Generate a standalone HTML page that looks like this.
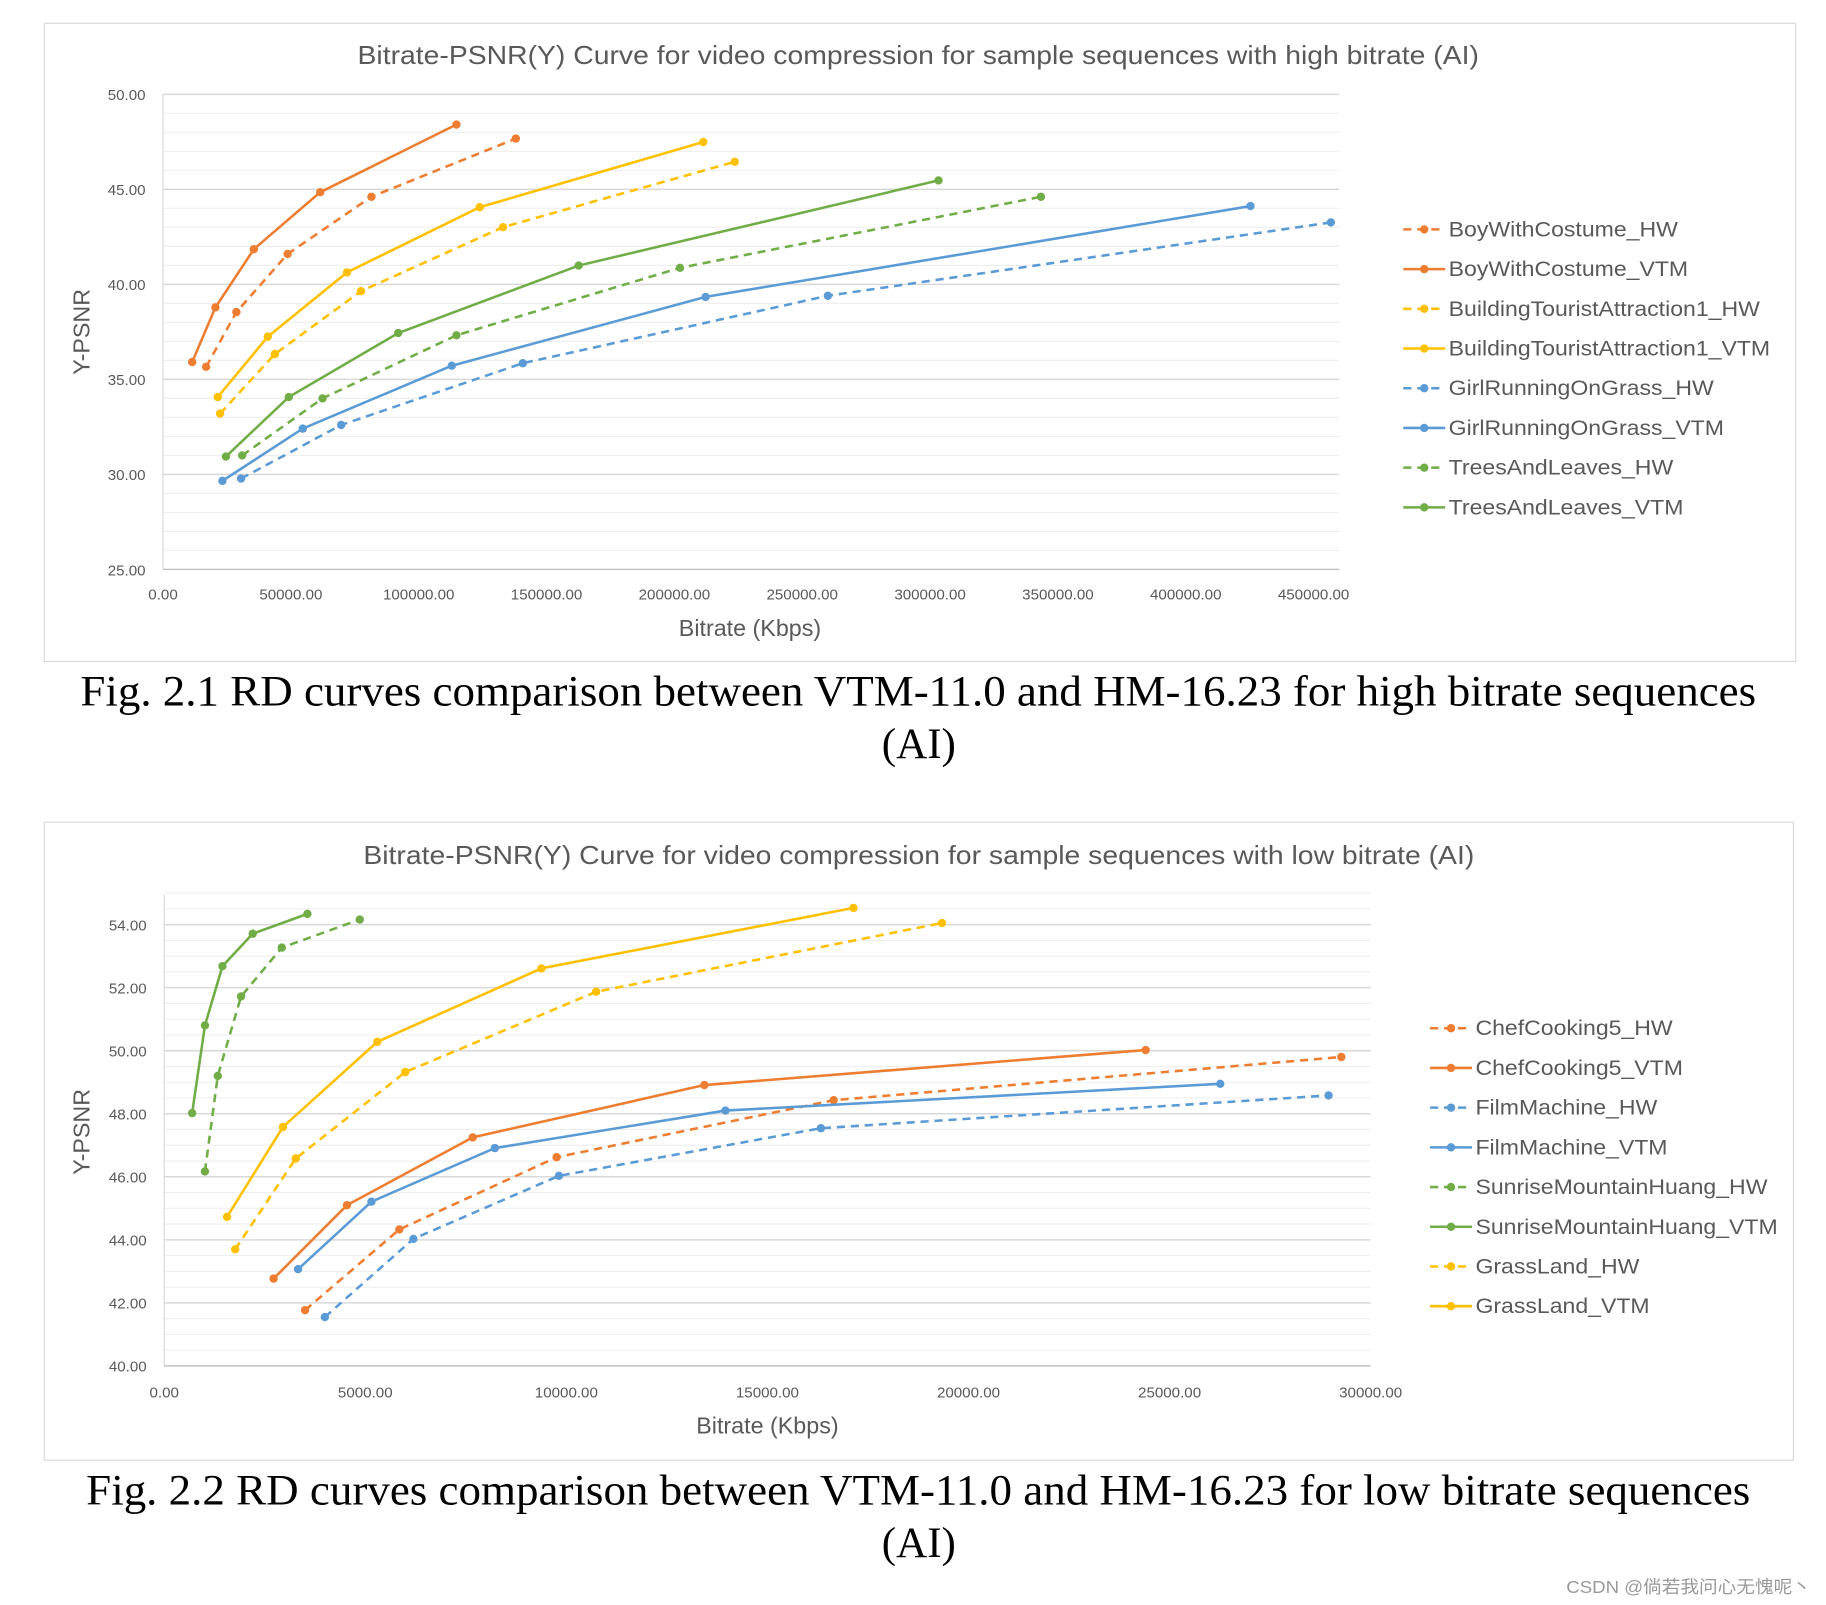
<!DOCTYPE html>
<html><head><meta charset="utf-8"><style>
html,body{margin:0;padding:0;background:#fff;}
svg{display:block;}
text{font-family:"Liberation Sans","Noto Sans CJK SC",sans-serif;}
.cap{font-family:"Liberation Serif",serif;font-size:37px;fill:#000;}
</style></head><body>
<svg id="root" width="1826" height="1605" viewBox="0 0 1568 1378.3" preserveAspectRatio="none" xmlns="http://www.w3.org/2000/svg">
<rect x="38" y="20" width="1504" height="548" fill="#fff" stroke="#d9d9d9"/>
<rect x="38" y="706" width="1502" height="548" fill="#fff" stroke="#d9d9d9"/>
<g id="c1"></g>
<g id="c2"></g>
<text class="cap" x="69" y="606" textLength="1439" lengthAdjust="spacingAndGlyphs">Fig. 2.1 RD curves comparison between VTM-11.0 and HM-16.23 for high bitrate sequences</text>
<text class="cap" x="789" y="651" text-anchor="middle">(AI)</text>
<text class="cap" x="74" y="1292" textLength="1429" lengthAdjust="spacingAndGlyphs">Fig. 2.2 RD curves comparison between VTM-11.0 and HM-16.23 for low bitrate sequences</text>
<text class="cap" x="789" y="1337" text-anchor="middle">(AI)</text>
<text x="1345" y="1368" textLength="210" lengthAdjust="spacingAndGlyphs" font-size="15" fill="#999">CSDN @倘若我问心无愧呢丶</text>
</svg>
<script>
// ---- Chart 1 data ----
const c1Names = ["BoyWithCostume_HW","BoyWithCostume_VTM","BuildingTouristAttraction1_HW","BuildingTouristAttraction1_VTM","GirlRunningOnGrass_HW","GirlRunningOnGrass_VTM","TreesAndLeaves_HW","TreesAndLeaves_VTM"];
const c1X = [
 [16850,28690,48725,81510,137980],
 [11385,20490,35520,61475,114750],
 [22310,43715,77410,132970,223590],
 [21400,40985,71950,123860,211290],
 [30510,69670,140710,260020,456740],
 [23225,54645,112930,212200,425320],
 [30965,62385,114750,202190,343350],
 [24590,49180,91985,162570,303280]];
const c1Y = [
 [35.66,38.54,41.6,44.61,47.67],
 [35.91,38.79,41.85,44.85,48.41],
 [33.2,36.33,39.64,43.01,46.45],
 [34.07,37.25,40.63,44.06,47.49],
 [29.78,32.6,35.85,39.4,43.26],
 [29.66,32.41,35.72,39.34,44.12],
 [31.0,34.0,37.32,40.87,44.61],
 [30.94,34.07,37.44,40.99,45.47]];
const c1XTicks = ["0.00","50000.00","100000.00","150000.00","200000.00","250000.00","300000.00","350000.00","400000.00","450000.00"];
const c1YTicks = ["25.00","30.00","35.00","40.00","45.00","50.00"];
// ---- Chart 2 data ----
const c2Names = ["ChefCooking5_HW","ChefCooking5_VTM","FilmMachine_HW","FilmMachine_VTM","SunriseMountainHuang_HW","SunriseMountainHuang_VTM","GrassLand_HW","GrassLand_VTM"];
const c2X = [
 [3503,5848,9757,16647,29270],
 [2721,4545,7672,13433,24406],
 [3995,6196,9815,16330,28953],
 [3329,5153,8222,13955,26260],
 [1013,1332,1911,2924,4864],
 [695,1013,1448,2200,3561],
 [1766,3272,5993,10741,19340],
 [1563,2953,5298,9380,17140]];
const c2Y = [
 [41.77,44.33,46.62,48.43,49.8],
 [42.77,45.1,47.25,48.91,50.02],
 [41.55,44.03,46.03,47.54,48.58],
 [43.07,45.21,46.91,48.1,48.95],
 [46.17,49.2,51.72,53.27,54.16],
 [48.02,50.8,52.68,53.71,54.34],
 [43.7,46.58,49.32,51.87,54.05],
 [44.73,47.58,50.28,52.61,54.53]];
const c2XTicks = ["0.00","5000.00","10000.00","15000.00","20000.00","25000.00","30000.00"];
const c2YTicks = ["40.00","42.00","44.00","46.00","48.00","50.00","52.00","54.00"];

const NS="http://www.w3.org/2000/svg";
function mk(p,tag,at){const e=document.createElementNS(NS,tag);for(const k in at)e.setAttribute(k,at[k]);p.appendChild(e);return e;}

function draw(g,cfg){
  const {names,X,Y,xt,yt,colors,x0,x1,xmin,xmax,ybot,ytop,ymin,ymax,minor,title,titleY,legX,legY,plotRight,xLabY,xTitleY,xTitleX,yTitleY}=cfg;
  const sx=v=>x0+(v-xmin)/(xmax-xmin)*(x1-x0);
  const sy=v=>ybot-(v-ymin)/(ymax-ymin)*(ybot-ytop);
  let t=mk(g,'text',{x:cfg.titleX0,y:titleY,textLength:cfg.titleW,lengthAdjust:'spacingAndGlyphs','font-size':22,fill:'#595959'});t.textContent=title;
  
  
  for(let v=ymin;v<=cfg.yTop+1e-6;v+=minor){
    const isMaj=Math.abs((v-ymin)/cfg.major-Math.round((v-ymin)/cfg.major))<1e-6;
    const l=mk(g,'line',{x1:x0,x2:plotRight,y1:sy(v),y2:sy(v),stroke:isMaj?'#d9d9d9':'#efefef','stroke-width':isMaj?1.3:1});
    
    
  }
  const ax=mk(g,'line',{x1:x0,x2:x0,y1:cfg.axisTop,y2:ybot,stroke:'#d9d9d9'});
  
  
  const bx=mk(g,'line',{x1:x0,x2:plotRight,y1:ybot,y2:ybot,stroke:'#bfbfbf'});
  
  
  yt.forEach(s=>{const e=mk(g,'text',{x:x0-15,y:sy(parseFloat(s))+5,'text-anchor':'end','font-size':13,fill:'#595959'});e.textContent=s;
    
    });
  xt.forEach(s=>{const e=mk(g,'text',{x:sx(parseFloat(s)),y:xLabY,'text-anchor':'middle','font-size':13,fill:'#595959'});e.textContent=s;
    
    });
  let xt2=mk(g,'text',{x:xTitleX,y:xTitleY,'text-anchor':'middle','font-size':20,fill:'#595959'});xt2.textContent='Bitrate (Kbps)';
  
  
  let yt2=mk(g,'text',{x:0,y:0,'text-anchor':'middle','font-size':20,fill:'#595959',transform:`translate(77 ${yTitleY}) rotate(-90)`});yt2.textContent='Y-PSNR';
  
  
  names.forEach((n,i)=>{
    const c=colors[i], dash=n.endsWith('_HW');
    const sg=mk(g,'g',{});
    
    
    const pts=X[i].map((x,j)=>sx(x)+','+sy(Y[i][j])).join(' ');
    const pl=mk(sg,'polyline',{points:pts,fill:'none',stroke:c,'stroke-width':2.2,'stroke-dasharray':dash?'7 5':'none'});
    
    
    X[i].forEach((x,j)=>{const d=mk(sg,'circle',{cx:sx(x),cy:sy(Y[i][j]),r:3.6,fill:c});
      
      });
    const ly=legY+i*34.1;
    const lg=mk(g,'g',{});
    
    
    mk(lg,'line',{x1:legX,x2:legX+36,y1:ly,y2:ly,stroke:c,'stroke-width':2.2,'stroke-dasharray':dash?'7 5':'none'});
    mk(lg,'circle',{cx:legX+18,cy:ly,r:3.6,fill:c});
    const lt=mk(lg,'text',{x:legX+39,y:ly+6,'font-size':18.5,fill:'#595959',transform:`translate(${legX+39} 0) scale(1.07 1) translate(${-(legX+39)} 0)`});lt.textContent=n;
  });
}
const col=['#ED7D31','#ED7D31','#FFC000','#FFC000','#5B9BD5','#5B9BD5','#70AD47','#70AD47'];
draw(document.getElementById('c1'),{names:c1Names,X:c1X,Y:c1Y,xt:c1XTicks,yt:c1YTicks,colors:col,
 x0:140,x1:1128,xmin:0,xmax:450000,ybot:489,ytop:81,ymin:25,ymax:50,yTop:50,minor:1,major:5,axisTop:81,
 title:'Bitrate-PSNR(Y) Curve for video compression for sample sequences with high bitrate (AI)',titleY:55,titleX0:307,titleW:963,
 legX:1205,legY:197,plotRight:1150,xLabY:515,xTitleY:546,xTitleX:644,yTitleY:285});
const col2=['#ED7D31','#ED7D31','#5B9BD5','#5B9BD5','#70AD47','#70AD47','#FFC000','#FFC000'];
draw(document.getElementById('c2'),{names:c2Names,X:c2X,Y:c2Y,xt:c2XTicks,yt:c2YTicks,colors:col2,
 x0:141,x1:1177,xmin:0,xmax:30000,ybot:1173,ytop:794,ymin:40,ymax:54,yTop:55,minor:0.5,major:2,axisTop:768,
 title:'Bitrate-PSNR(Y) Curve for video compression for sample sequences with low bitrate (AI)',titleY:742,titleX0:312,titleW:954,
 legX:1228,legY:883,plotRight:1177,xLabY:1200,xTitleY:1231,xTitleX:659,yTitleY:972});
</script>
</body></html>
